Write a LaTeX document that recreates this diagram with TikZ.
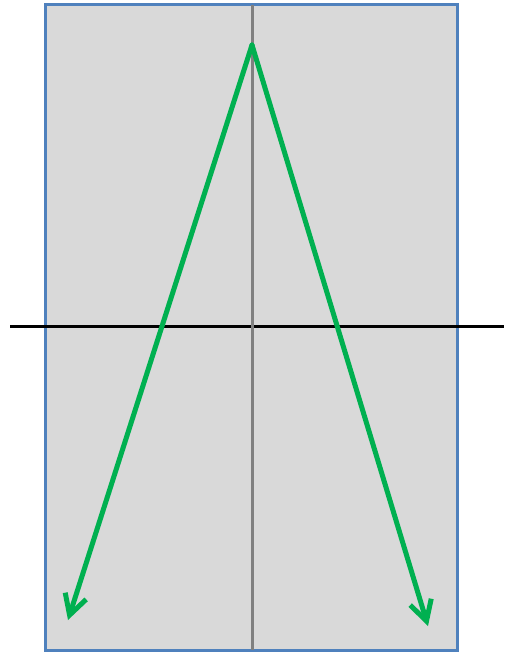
\documentclass[tikz,border=0pt]{standalone}
\usetikzlibrary{arrows.meta}
\definecolor{panelgray}{HTML}{D9D9D9}
\definecolor{panelblue}{HTML}{4F81BD}
\definecolor{axisgray}{HTML}{808080}
\definecolor{raygreen}{HTML}{00B050}
\tikzset{
  panel/.style={fill=panelgray, draw=panelblue, line width=3pt},
  horizon/.style={draw=black, line width=3pt},
  axis/.style={draw=axisgray, line width=3pt},
  ray/.style={draw=raygreen, line width=5pt, line cap=round, line join=round,
    -{Straight Barb[length=20pt, width=22pt, line width=5pt]}}
}
\begin{document}
\begin{tikzpicture}[x=1pt, y=-1pt]
\useasboundingbox (0,0) rectangle (504,652);
\coordinate (tl) at (45,5);
\coordinate (br) at (457,650);
\coordinate (hl) at (10,326);
\coordinate (hr) at (504,326);
\coordinate (vt) at (252,5);
\coordinate (vb) at (252,650);
\coordinate (apex) at (252,45);
\coordinate (tipL) at (68,620);
\coordinate (tipR) at (428,626);
\path[panel] (tl) rectangle (br);
\path[horizon] (hl) -- (hr);
\path[axis] (vt) -- (vb);
\path[ray] (apex) -- (tipL);
\path[ray] (apex) -- (tipR);
\end{tikzpicture}
\end{document}
